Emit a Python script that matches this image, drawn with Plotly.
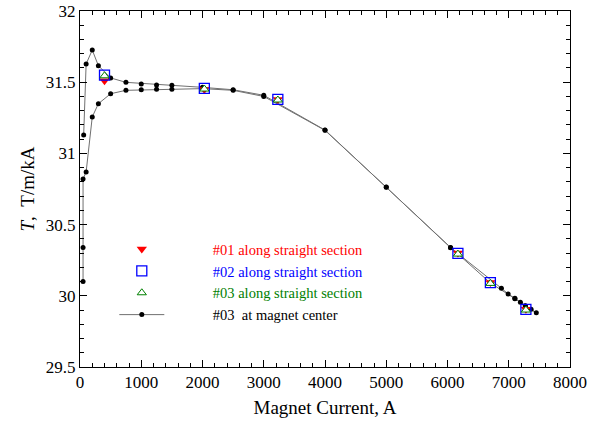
import plotly.graph_objects as go

# "#03 at magnet center" hysteresis loop (up-ramp then down-ramp)
center_current = [50, 50, 50, 100, 200, 300, 500, 750, 1000, 1250, 1500, 2000, 2500, 3000,
                  4000, 5000, 6050, 6880, 6990, 7100, 7190, 7270, 7365, 7450,
                  7270, 7100, 6700, 6050, 5000, 4000, 3000, 2500, 2000, 1500, 1250, 1000,
                  750, 500, 300, 200, 100, 60]
center_T = [30.10, 30.34, 30.82, 30.87, 31.256, 31.349, 31.419, 31.443, 31.447, 31.45, 31.45,
            31.455, 31.443, 31.40, 31.162, 30.762, 30.338, 30.053, 30.013, 29.982, 29.954,
            29.93, 29.905, 29.881,
            29.928, 29.98, 30.09, 30.34, 30.764, 31.164, 31.408, 31.447, 31.464, 31.478,
            31.48, 31.487, 31.499, 31.53, 31.616, 31.726, 31.628, 31.13]

# straight-section measurements
section_current = [400, 2030, 3230, 6170, 6700, 7280]
s01_T = [31.51, 31.448, 31.378, 30.30, 30.094, 29.905]
s02_T = [31.55, 31.457, 31.38, 30.298, 30.092, 29.905]
s03_T = [31.545, 31.452, 31.375, 30.293, 30.087, 29.90]

x_ticks = [0, 1000, 2000, 3000, 4000, 5000, 6000, 7000, 8000]
y_ticks = [29.5, 30, 30.5, 31, 31.5, 32]

FONT = "Liberation Serif, Times New Roman, serif"
PAD = "\u00a0" * 12


def colored(text, color):
    return f"{PAD}<span style='color:{color}'>{text}</span>"


fig = go.Figure()
fig.add_trace(go.Scatter(x=center_current, y=center_T, mode="lines+markers",
                         name=colored("#03\u00a0\u00a0at magnet center", "black"),
                         line=dict(color="#707070", width=1),
                         marker=dict(color="black", size=5, symbol="circle"),
                         legendrank=4))
fig.add_trace(go.Scatter(x=section_current, y=s01_T, mode="markers",
                         name=colored("#01 along straight section", "#ff0000"),
                         marker=dict(symbol="triangle-down", color="#ff0000", size=9,
                                     line=dict(width=0)),
                         legendrank=1))
fig.add_trace(go.Scatter(x=section_current, y=s02_T, mode="markers",
                         name=colored("#02 along straight section", "#0000ff"),
                         marker=dict(symbol="square-open", color="#0000ff", size=10,
                                     line=dict(width=1.3)),
                         legendrank=2))
fig.add_trace(go.Scatter(x=section_current, y=s03_T, mode="markers",
                         name=colored("#03 along straight section", "#008000"),
                         marker=dict(symbol="triangle-up", color="white", size=8,
                                     line=dict(width=1, color="#008000")),
                         legendrank=3))

axis_common = dict(showline=True, linecolor="black", linewidth=1, mirror="ticks",
                   ticks="inside", ticklen=7, tickcolor="black", showgrid=False,
                   zeroline=False, automargin=False,
                   tickfont=dict(family=FONT, size=17, color="black"))

fig.update_xaxes(range=[0, 8000], tickvals=x_ticks,
                 minor=dict(dtick=200, ticks="inside", ticklen=4, tickcolor="black"),
                 title=dict(text="Magnet Current, A", font=dict(family=FONT, size=19, color="black"),
                            standoff=9),
                 **axis_common)
fig.update_yaxes(range=[29.5, 32], tickvals=y_ticks,
                 minor=dict(dtick=0.1, ticks="inside", ticklen=4, tickcolor="black"),
                 title=dict(text="<i>T</i>,\u00a0\u00a0T/m/kA", font=dict(family=FONT, size=19, color="black"),
                            standoff=6),
                 **axis_common)

fig.update_layout(
    width=589, height=422,
    margin=dict(l=80, r=19, t=11, b=55),
    plot_bgcolor="white", paper_bgcolor="white",
    font=dict(family=FONT, color="black"),
    showlegend=True,
    legend=dict(x=0.070, y=0.376, xanchor="left", yanchor="top",
                bgcolor="rgba(0,0,0,0)", itemwidth=45, tracegroupgap=0,
                font=dict(family=FONT, size=14.5)),
)

# remove the default page margin so the figure fills the window exactly
fig.write_html("out.html",
               config={"displayModeBar": False},
               post_script="document.body.style.margin='0';document.body.style.padding='0';"
                           "document.body.style.overflow='hidden';")
